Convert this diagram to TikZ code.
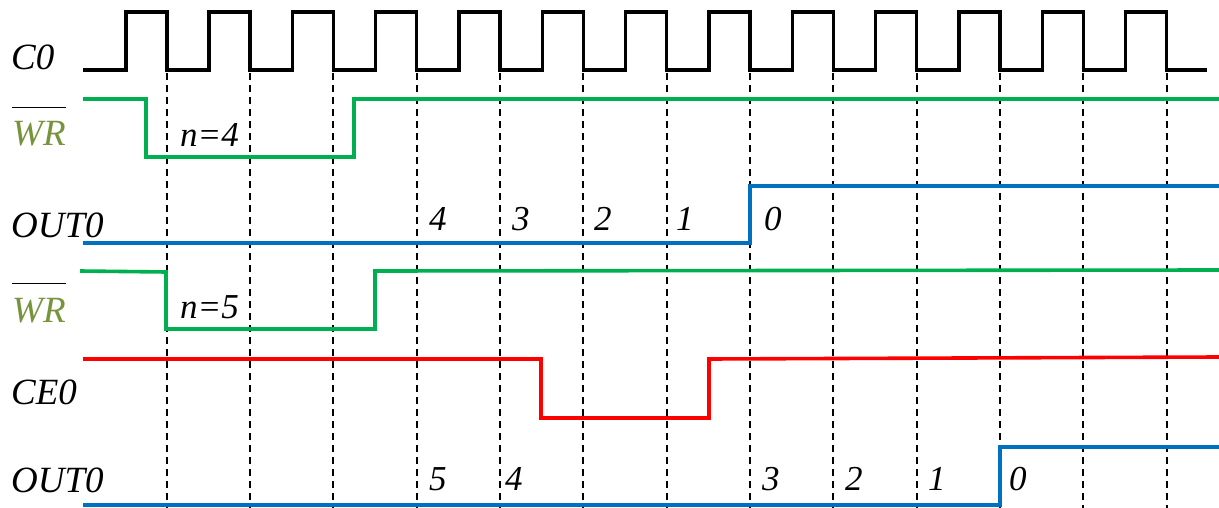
\documentclass[tikz,border=0pt]{standalone}
\usepackage{fontspec}
\setmainfont{Liberation Serif}
\usepackage{xcolor}
\definecolor{sigGreen}{HTML}{00B050}
\definecolor{sigBlue}{HTML}{0070C0}
\definecolor{sigRed}{HTML}{FF0000}
\definecolor{wrOlive}{HTML}{77933C}
\tikzset{
    clk/.style={line width=3.6pt, black, line join=miter},
    wrline/.style={line width=3.6pt, sigGreen},
    outline/.style={line width=3.8pt, sigBlue},
    celine/.style={line width=3.6pt, sigRed},
    tick/.style={line width=1.8pt, black, dash pattern=on 7pt off 5pt},
    lbl/.style={anchor=base west, inner sep=0pt, font=\fontsize{37}{42}\selectfont\itshape},
    num/.style={anchor=base west, inner sep=0pt, font=\fontsize{35}{40}\selectfont\itshape}
}
\newcommand{\wrbar}{$\overline{\rule{0pt}{1.0em}\textcolor{wrOlive}{\mathit{WR}}}$}
\begin{document}
\begin{tikzpicture}[x=1pt, y=-1pt]
    \useasboundingbox (0,0) rectangle (1219,508);

    % 时钟 C0
    \draw[clk] (83,70)
        \foreach \k in {0,...,12} {
            -- ({125.7+83.33*\k},70) -- ({125.7+83.33*\k},12)
            -- ({166.7+83.33*\k},12) -- ({166.7+83.33*\k},70)
        } -- (1207,70);

    % 下降沿虚线
    \foreach \k in {0,...,12}
        \draw[tick] ({166.7+83.33*\k},73) -- ({166.7+83.33*\k},508);

    % 第一组：n=4
    \draw[wrline] (83,99) -- (146,99) -- (146,157) -- (354,157) -- (354,99) -- (1219,99);
    \draw[outline] (83,243) -- (750,243) -- (750,186) -- (1219,186);

    % 第二组：n=5
    \draw[wrline] (80,271) -- (166,272) -- (166,329) -- (375,329) -- (375,271) -- (1219,270);
    \draw[celine] (83,359) -- (541,359) -- (541,418) -- (709,418) -- (709,359) -- (1219,357);
    \draw[outline] (83,505) -- (1000,505) -- (1000,447) -- (1219,447);

    % 信号名
    \node[lbl] (nC) at (11,70) {C0};
    \node[lbl] (nWa) at (12,146) {\wrbar};
    \node[lbl] (nOa) at (11,237) {OUT0};
    \node[lbl] (nWb) at (12,322) {\wrbar};
    \node[lbl] (nCE) at (11,404) {CE0};
    \node[lbl] (nOb) at (11,492) {OUT0};

    % 计数值
    \node[num] (na) at (180,147) {n=4};
    \node[num] (nb) at (180,318) {n=5};
    \node[num] (a4) at (429,230) {4};
    \node[num] (a3) at (512,230) {3};
    \node[num] (a2) at (594,230) {2};
    \node[num] (a1) at (676,230) {1};
    \node[num] (a0) at (764,230) {0};
    \node[num] (b5) at (429,490) {5};
    \node[num] (b4) at (505,490) {4};
    \node[num] (b3) at (762,490) {3};
    \node[num] (b2) at (845,490) {2};
    \node[num] (b1) at (928,490) {1};
    \node[num] (b0) at (1009,490) {0};
\end{tikzpicture}
\end{document}
